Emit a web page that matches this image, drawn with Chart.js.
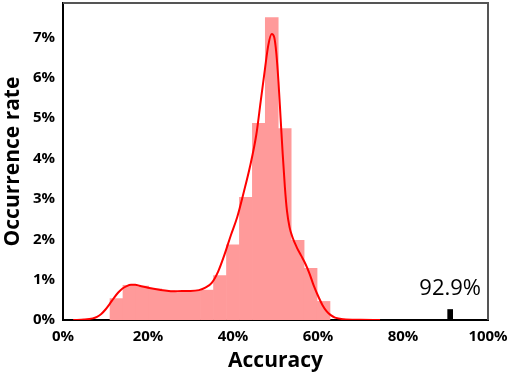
<!DOCTYPE html>
<html>
<head>
<meta charset="utf-8">
<script src="https://cdn.jsdelivr.net/npm/chart.js@4/dist/chart.umd.min.js"></script>
<style>
html,body{margin:0;padding:0;background:#fff;}
#wrap{width:510px;height:374px;}
</style>
</head>
<body>
<div id="wrap"><canvas id="c" width="510" height="374"></canvas></div>
<script>
// Histogram bin centers (% accuracy) and occurrence rates (%)
const binCenters = [12.58, 15.63, 18.67, 21.72, 24.76, 27.81, 30.85, 33.90, 36.94, 39.99, 43.03, 46.08, 49.12, 52.17, 55.21, 58.26, 61.30];
const binRates   = [0.53, 0.86, 0.84, 0.77, 0.72, 0.70, 0.72, 0.74, 1.10, 1.86, 3.04, 4.87, 7.49, 4.74, 1.97, 1.28, 0.46];

// KDE curve
const kdeX = [2.4, 5, 7, 8, 9, 10, 11, 12, 13, 14, 15, 16, 17, 18, 20, 22, 24, 26, 28, 30, 32, 33.5, 35, 36.5, 38, 39.5, 41, 42.5, 44, 45.5, 46.5, 47.5, 48.3, 49.1, 49.7, 50.2, 50.7, 51.2, 51.7, 52.2, 52.7, 53.3, 54, 55, 56, 57, 58, 59, 60, 61, 62, 63, 64, 66, 70, 74.6];
const kdeY = [0, 0.01, 0.04, 0.08, 0.15, 0.26, 0.40, 0.55, 0.68, 0.78, 0.84, 0.87, 0.87, 0.85, 0.80, 0.76, 0.73, 0.71, 0.72, 0.72, 0.74, 0.80, 0.92, 1.20, 1.62, 2.10, 2.55, 3.15, 3.80, 4.60, 5.40, 6.20, 6.80, 7.08, 7.00, 6.60, 5.90, 5.00, 4.10, 3.30, 2.70, 2.30, 2.05, 1.80, 1.60, 1.40, 1.15, 0.85, 0.60, 0.38, 0.22, 0.12, 0.06, 0.02, 0.005, 0];

// Highlighted result
const markX = [91.1];
const markY = [0.26];
const markLabel = ["92.9%"];

const xTicks = [0, 20, 40, 60, 80, 100];
const yTicks = [0, 1, 2, 3, 4, 5, 6, 7];

const fontFam = "'Open Sans', 'DejaVu Sans', sans-serif";

const labelPlugin = {
  id: 'markLabel',
  afterDatasetsDraw(chart) {
    const {ctx, scales: {x, y}} = chart;
    ctx.save();
    ctx.font = "22px " + fontFam;
    ctx.fillStyle = '#000';
    ctx.textAlign = 'center';
    ctx.textBaseline = 'alphabetic';
    markX.forEach((v, i) => {
      ctx.fillText(markLabel[i], x.getPixelForValue(v), y.getPixelForValue(markY[i]) - 15);
    });
    ctx.restore();
  }
};

const framePlugin = {
  id: 'frame',
  beforeDatasetsDraw(chart) {
    const {ctx, chartArea: a} = chart;
    ctx.save();
    ctx.strokeStyle = '#555';
    ctx.lineWidth = 2;
    ctx.beginPath();
    ctx.moveTo(a.left, a.top);
    ctx.lineTo(a.right, a.top);
    ctx.lineTo(a.right, a.bottom);
    ctx.stroke();
    ctx.restore();
  }
};

new Chart(document.getElementById('c'), {
  data: {
    datasets: [
      {
        type: 'line',
        data: kdeX.map((v, i) => ({x: v, y: kdeY[i]})),
        borderColor: '#ff0000',
        borderWidth: 2,
        pointRadius: 0,
        fill: false,
        cubicInterpolationMode: 'monotone',
        order: 0
      },
      {
        type: 'bar',
        data: binCenters.map((v, i) => ({x: v, y: binRates[i]})),
        backgroundColor: '#ff9a9a',
        borderWidth: 0,
        barPercentage: 1,
        categoryPercentage: 1,
        grouped: false,
        order: 1
      },
      {
        type: 'bar',
        data: markX.map((v, i) => ({x: v, y: markY[i]})),
        backgroundColor: '#000',
        borderWidth: 0,
        barThickness: 5,
        grouped: false,
        order: 1
      }
    ]
  },
  options: {
    responsive: false,
    animation: false,
    devicePixelRatio: 1,
    layout: {padding: {top: 3, right: 22, left: 0, bottom: 0}},
    plugins: {legend: {display: false}, tooltip: {enabled: false}},
    scales: {
      x: {
        type: 'linear',
        offset: false,
        min: 0, max: 100,
        afterBuildTicks(s) { s.ticks = xTicks.map(v => ({value: v})); },
        afterFit(s) { s.height = 54; s.paddingLeft = 0; s.paddingRight = 0; },
        grid: {display: false, drawTicks: true, tickLength: 5, tickColor: '#000', offset: false},
        border: {display: true, color: '#000', width: 2},
        ticks: {
          color: '#000', padding: 3,
          font: {family: fontFam, size: 15, weight: 'bold'},
          callback: v => v + '%',
          maxRotation: 0
        },
        title: {
          display: true, text: 'Accuracy', color: '#000',
          font: {family: fontFam, size: 21, weight: 'bold'},
          padding: {top: 0, bottom: 0}
        }
      },
      y: {
        type: 'linear',
        min: 0, max: 7.85,
        afterBuildTicks(s) { s.ticks = yTicks.map(v => ({value: v})); },
        afterFit(s) { s.width = 63; s.paddingTop = 0; s.paddingBottom = 0; },
        grid: {display: false, drawTicks: true, tickLength: 5, tickColor: '#000'},
        border: {display: true, color: '#000', width: 2},
        ticks: {
          color: '#000', padding: 3,
          font: {family: fontFam, size: 15, weight: 'bold'},
          callback: v => v + '%'
        },
        title: {
          display: true, text: 'Occurrence rate', color: '#000',
          font: {family: fontFam, size: 21, weight: 'bold'},
          padding: {top: 0, bottom: 0}
        }
      }
    }
  },
  plugins: [framePlugin, labelPlugin]
});
</script>
</body>
</html>
